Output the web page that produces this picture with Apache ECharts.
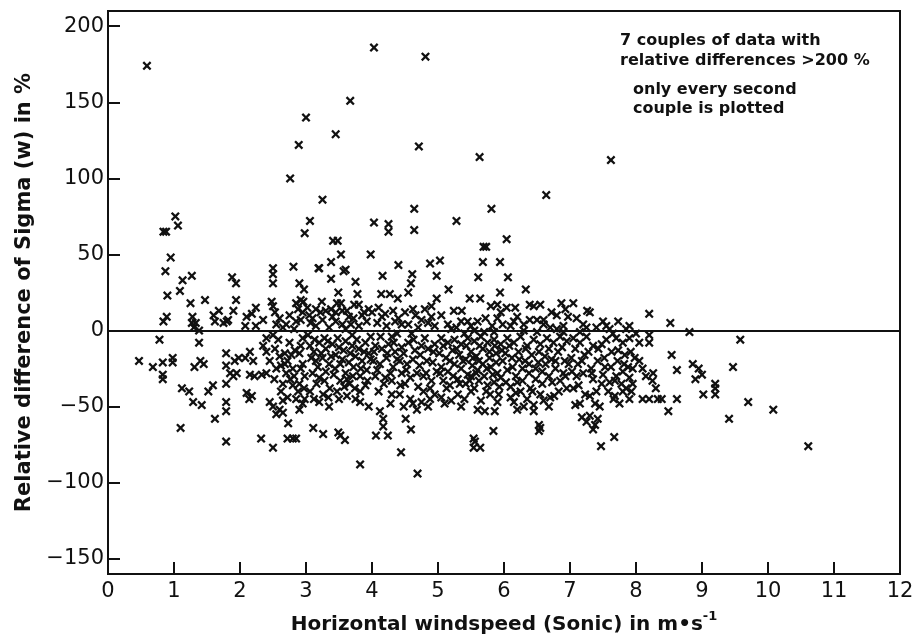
<!DOCTYPE html>
<html>
<head>
<meta charset="utf-8">
<script src="https://cdn.jsdelivr.net/npm/echarts@6/dist/echarts.min.js"></script>
<style>html,body{margin:0;padding:0;background:#fff}#c{width:919px;height:643px}</style>
</head>
<body>
<div id="c"></div>
<script>
// ---- data (windspeed m/s, relative difference %) ----
const xTicks = [0,1,2,3,4,5,6,7,8,9,10,11,12];
const yTicks = [-150,-100,-50,0,50,100,150,200];
const annotation1 = ["7 couples of data with", "relative differences >200 %"];
const annotation2 = ["only every second", "couple is plotted"];

const pointsA = [[0.59,174],[1.02,75],[1.06,69],[0.84,65],[0.88,65],[0.95,48],[0.87,39],[0.9,23],[0.84,6],[0.89,9],[1.13,33],[1.09,26],[1.27,36],[1.25,18],[1.28,9],[1.27,5],[1.47,20],[1.68,13],[1.62,6],[1.8,6],[1.75,5],[1.88,35],[1.94,31],[1.94,20],[1.9,13],[1.3,2],[1.38,0],[1.33,5],[1.6,10],[1.82,7],
[0.47,-20],[0.68,-24],[0.83,-21],[0.83,-29],[0.83,-32],[0.78,-6],[0.98,-18],[0.98,-21],[1.1,-64],[1.12,-38],[1.23,-40],[1.31,-24],[1.4,-20],[1.45,-22],[1.29,-47],[1.42,-49],[1.38,-8],[1.52,-40],[1.59,-36],[1.62,-58],[1.79,-15],[1.79,-23],[1.79,-35],[1.79,-47],[1.79,-53],[1.79,-73],[1.92,-20],[1.98,-18],[1.85,-28],[1.9,-30],[1.95,-28]];

const pointsB = [[2.08,3],[2.18,11],[2.24,15],[2.24,3],[2.35,7],[2.1,9],[2.5,41],[2.5,37],[2.5,31],[2.48,19],[2.53,12],[2.5,16],[2.76,100],[2.89,122],[2.98,64],[2.81,42],[2.9,31],[2.97,27],[2.85,18],[2.92,20],[2.96,19],[2.88,14],[2.85,6],[2.95,12],[2.92,7],[2.4,-5],[2.5,-3],[2.65,2],[2.7,4],[2.6,8],
[2.08,-18],[2.15,-14],[2.2,-20],[2.15,-29],[2.1,-41],[2.14,-45],[2.18,-43],[2.22,-30],[2.33,-29],[2.4,-28],[2.35,-10],[2.4,-14],[2.32,-71],[2.5,-77],[2.45,-47],[2.5,-50],[2.55,-55],[2.6,-52],[2.65,-54],[2.73,-61],[2.72,-71],[2.8,-71],[2.85,-71],[2.53,-12],[2.6,-17],[2.68,-15],[2.72,-20],[2.62,-23],[2.76,-32],[2.8,-36],[2.9,-35],[2.65,-35],[2.85,-45],[2.9,-52],[2.95,-48],[2.98,-45],[2.45,-20],[2.55,-25],[2.7,-28],[2.8,-25],[2.9,-15],[2.95,-22],[2.98,-30],[2.83,-13],[2.75,-8],[2.95,-5],
[2.52,-32],[2.58,-6],[2.62,-40],[2.68,-22],[2.72,-44],[2.78,-16],[2.82,-30],[2.88,-40],[2.92,-10],[2.97,-38],[2.55,4],[2.75,10],[2.82,1],[2.65,-46],[2.92,-25]];

const pointsC = [[3.0,140],[3.06,72],[3.25,86],[3.45,129],[3.67,151],[3.2,41],[3.24,19],[3.38,45],[3.38,34],[3.41,59],[3.48,59],[3.53,50],[3.57,39],[3.49,25],[3.47,18],[3.53,18],[3.75,32],[3.78,24],[3.73,17],[3.8,17],[3.98,50],[3.19,41],[3.6,40],
[3.02,15],[3.05,10],[3.15,14],[3.22,12],[3.3,13],[3.38,14],[3.45,12],[3.55,13],[3.62,13],[3.07,5],[3.15,3],[3.25,7],[3.35,2],[3.45,6],[3.55,4],[3.65,9],[3.72,8],[3.85,10],[3.92,6],[3.95,14],[3.6,1],[3.8,3],
[3.06,-10],[3.12,-14],[3.2,-8],[3.3,-12],[3.4,-9],[3.5,-11],[3.6,-7],[3.7,-10],[3.8,-12],[3.9,-8],[3.15,-20],[3.25,-18],[3.35,-22],[3.45,-16],[3.55,-19],[3.65,-21],[3.75,-17],[3.85,-20],[3.95,-15],[3.1,-28],[3.2,-31],[3.3,-27],[3.44,-25],[3.52,-33],[3.6,-28],[3.71,-30],[3.82,-30],[3.92,-26],[3.06,-40],[3.12,-45],[3.2,-47],[3.26,-42],[3.36,-38],[3.47,-40],[3.58,-37],[3.66,-35],[3.82,-40],[3.82,-47],[3.75,-45],[3.11,-64],[3.26,-68],[3.49,-67],[3.59,-72],[3.52,-69],[3.82,-88],[3.95,-50],[3.9,-36],[3.35,-50],[3.28,-5],[3.7,-3],
[3.03,-3],[3.08,-18],[3.13,-6],[3.18,-24],[3.23,-15],[3.28,-33],[3.33,-7],[3.38,-17],[3.42,-29],[3.48,-5],[3.52,-22],[3.57,-13],[3.62,-32],[3.67,-15],[3.72,-24],[3.77,-6],[3.83,-25],[3.88,-14],[3.93,-33],[3.98,-19],[3.1,8],[3.4,9],[3.68,4],[3.88,12],[3.34,-44],[3.62,-43],[3.74,-38],[3.16,-35],[3.5,-45],[3.98,-4]];

const pointsD = [[4.03,186],[4.81,180],[4.71,121],[4.03,71],[4.25,70],[4.25,65],[4.64,80],[4.64,66],[4.16,36],[4.14,24],[4.27,24],[4.4,43],[4.39,21],[4.55,25],[4.59,31],[4.61,37],[4.88,44],[4.98,36],[4.98,21],[4.0,12],[4.1,15],[4.2,11],[4.32,13],[4.4,8],[4.5,12],[4.66,10],[4.8,14],[4.9,9],[4.08,5],[4.22,3],[4.35,6],[4.55,4],[4.7,2],[4.85,5],[4.95,3],
[4.06,-69],[4.24,-69],[4.12,-53],[4.17,-58],[4.17,-63],[4.51,-58],[4.59,-65],[4.44,-80],[4.69,-94],[4.3,-42],[4.42,-42],[4.58,-45],[4.62,-48],[4.75,-47],[4.85,-50],[4.2,-31],[4.05,-10],[4.15,-12],[4.25,-9],[4.35,-14],[4.45,-11],[4.55,-8],[4.65,-13],[4.75,-10],[4.85,-12],[4.95,-9],[4.02,-20],[4.12,-22],[4.22,-18],[4.32,-24],[4.42,-20],[4.52,-26],[4.62,-19],[4.72,-23],[4.82,-28],[4.92,-21],[4.05,-30],[4.3,-33],[4.5,-35],[4.7,-37],[4.9,-33],[4.95,-42],[4.1,-40],[4.6,-2],[4.3,-4],[4.8,-5],[4.45,-28],[4.78,-30],
[4.03,-14],[4.08,-26],[4.13,-4],[4.18,-35],[4.23,-15],[4.28,-28],[4.33,-8],[4.38,-19],[4.43,-36],[4.48,-15],[4.53,-22],[4.58,-31],[4.63,-6],[4.68,-28],[4.73,-16],[4.78,-40],[4.83,-20],[4.88,-38],[4.93,-14],[4.98,-27],[4.28,-48],[4.48,-50],[4.68,-52],[4.88,-45],[4.15,9],[4.45,4],[4.62,14],[4.75,7],[4.9,16],[4.38,-2]];

const pointsE = [[5.63,114],[5.28,72],[5.81,80],[5.73,55],[5.69,55],[5.68,45],[5.94,45],[5.03,46],[5.61,35],[5.16,27],[5.24,13],[5.94,25],[5.48,21],[5.64,21],[5.36,13],[5.8,16],[5.9,17],[5.95,12],[5.35,6],[5.45,6],[5.6,6],[5.72,8],[5.9,8],[5.05,10],[5.15,4],[5.28,2],[5.5,3],[5.82,3],
[5.05,-5],[5.15,-8],[5.25,-6],[5.35,-9],[5.45,-5],[5.55,-7],[5.65,-4],[5.75,-8],[5.85,-6],[5.95,-9],[5.02,-15],[5.12,-18],[5.22,-13],[5.32,-16],[5.42,-19],[5.5,-14],[5.58,-17],[5.68,-12],[5.78,-18],[5.88,-15],[5.98,-20],[5.05,-24],[5.15,-27],[5.25,-22],[5.35,-25],[5.45,-29],[5.52,-23],[5.6,-26],[5.7,-30],[5.8,-24],[5.9,-28],[5.08,-33],[5.18,-36],[5.3,-32],[5.42,-35],[5.55,-38],[5.62,-33],[5.75,-36],[5.85,-34],[5.95,-31],[5.05,-44],[5.2,-46],[5.4,-45],[5.79,-42],[5.92,-42],[5.71,-53],[5.86,-53],[5.84,-66],[5.64,-77],[5.54,-71],[5.54,-77],[5.56,-73],[5.5,-40],[5.3,-42],[5.65,-46],
[5.03,-28],[5.08,-10],[5.13,-38],[5.18,-20],[5.23,-30],[5.28,-12],[5.33,-35],[5.38,-20],[5.43,-10],[5.48,-33],[5.53,-18],[5.58,-28],[5.63,-10],[5.68,-22],[5.73,-40],[5.78,-14],[5.83,-29],[5.88,-21],[5.93,-37],[5.97,-13],[5.1,-48],[5.35,-50],[5.6,-52],[5.9,-47],[5.7,-1],[5.4,-2],[5.2,1],[5.55,0],[5.85,-1],[5.98,4],[5.62,-20],[5.74,-25],[5.86,-10],[5.5,-30]];

const pointsF = [[6.04,60],[6.64,89],[6.06,35],[6.33,27],[6.04,15],[6.17,15],[6.39,17],[6.55,17],[6.45,16],[6.87,18],[6.93,14],[6.97,9],[6.39,7],[6.5,7],[6.6,7],[6.2,9],[6.72,12],[6.8,10],[6.1,3],[6.3,4],[6.7,2],[6.9,3],
[6.53,-62],[6.53,-66],[6.55,-64],[6.15,-47],[6.3,-50],[6.45,-49],[6.6,-46],[6.7,-44],[6.76,-43],[6.85,-33],[6.05,-5],[6.15,-8],[6.25,-4],[6.35,-10],[6.45,-6],[6.55,-9],[6.65,-5],[6.75,-8],[6.85,-4],[6.95,-7],[6.02,-15],[6.12,-18],[6.22,-14],[6.32,-20],[6.42,-16],[6.52,-21],[6.62,-17],[6.72,-19],[6.82,-14],[6.92,-20],[6.05,-26],[6.18,-30],[6.28,-25],[6.38,-28],[6.48,-32],[6.58,-27],[6.68,-30],[6.78,-25],[6.9,-28],[6.1,-37],[6.25,-40],[6.4,-38],[6.55,-42],[6.35,-45],[6.2,-34],[6.95,-38],
[6.03,-34],[6.08,-10],[6.13,-24],[6.18,-41],[6.23,-19],[6.28,-33],[6.33,-12],[6.38,-22],[6.43,-40],[6.48,-25],[6.53,-14],[6.58,-35],[6.63,-22],[6.68,-12],[6.73,-34],[6.78,-20],[6.83,-40],[6.88,-11],[6.93,-30],[6.98,-22],[6.2,-52],[6.45,-53],[6.68,-50],[6.1,-44],[6.3,0],[6.5,-1],[6.8,1],[6.6,4],[6.15,6],[6.9,-1]];

const pointsG = [[7.05,18],[7.26,13],[7.3,12],[7.5,6],[7.73,6],[7.62,112],[7.2,4],[7.4,2],[7.6,1],[7.9,3],[7.1,8],
[7.05,-38],[7.08,-49],[7.3,-43],[7.4,-40],[7.18,-57],[7.25,-60],[7.3,-56],[7.38,-62],[7.42,-58],[7.35,-65],[7.47,-76],[7.67,-70],[7.68,-43],[7.8,-40],[7.9,-45],[7.95,-35],[7.85,-38],[7.66,-45],[7.05,-5],[7.15,-8],[7.25,-4],[7.35,-10],[7.48,-9],[7.55,-6],[7.7,-5],[7.8,-8],[7.9,-5],[7.92,-14],[7.02,-18],[7.12,-22],[7.22,-16],[7.32,-25],[7.42,-20],[7.52,-18],[7.62,-24],[7.72,-20],[7.82,-22],[7.95,-25],[7.1,-30],[7.2,-28],[7.35,-32],[7.5,-29],[7.6,-34],[7.7,-30],[7.8,-27],[7.9,-31],
[7.03,-27],[7.08,-12],[7.13,-36],[7.18,-20],[7.23,-42],[7.28,-14],[7.33,-28],[7.38,-48],[7.43,-12],[7.48,-35],[7.53,-24],[7.58,-40],[7.63,-14],[7.68,-33],[7.73,-13],[7.78,-35],[7.83,-16],[7.88,-24],[7.93,-40],[7.98,-18],[7.15,-48],[7.45,-50],[7.75,-48],[7.25,2],[7.55,3],[7.85,1],[7.65,-2],[7.15,-1]];

const pointsH = [[8.2,11],[8.52,5],[8.0,-2],[8.05,-8],[8.2,-3],[8.2,-8],[8.81,-1],[9.58,-6],[9.47,-24],[8.54,-16],[8.62,-26],[8.86,-22],[8.95,-25],[9.0,-29],[8.9,-32],[9.2,-35],[9.2,-38],[9.2,-42],[9.02,-42],[9.7,-47],[10.08,-52],[9.41,-58],[10.61,-76],[8.49,-53],[8.39,-45],[8.62,-45],[8.15,-30],[8.25,-33],[8.3,-38],[8.1,-45],[8.2,-45],[8.26,-28],[8.33,-45],[8.05,-20],[8.1,-25]];

const allPoints = [].concat(pointsA, pointsB, pointsC, pointsD, pointsE, pointsF, pointsG, pointsH);

const chart = echarts.init(document.getElementById('c'), null, {renderer: 'canvas'});
const ink = '#111';
const xMark = 'path://M0,1.8L1.8,0L5,3.2L8.2,0L10,1.8L6.8,5L10,8.2L8.2,10L5,6.8L1.8,10L0,8.2L3.2,5Z';
const font = 'DejaVu Sans';
const yMin = -160, yMax = 210;

chart.setOption({
  animation: false,
  backgroundColor: '#fff',
  grid: {left: 108, right: 19, top: 11, bottom: 69, show: true, borderColor: ink, borderWidth: 2, backgroundColor: 'transparent'},
  xAxis: {
    type: 'value', min: 0, max: 12, interval: 1, position: 'bottom',
    axisLine: {show: true, onZero: false, lineStyle: {color: ink, width: 2}},
    axisTick: {show: true, inside: true, length: 12, lineStyle: {color: ink, width: 2}},
    axisLabel: {color: ink, fontFamily: font, fontSize: 21, margin: 7},
    splitLine: {show: false},
    name: 'Horizontal windspeed (Sonic) in m•s{sup|-1}',
    nameLocation: 'middle', nameGap: 36,
    nameTextStyle: {color: ink, fontFamily: font, fontSize: 20, fontWeight: 'bold',
      rich: {sup: {fontFamily: font, fontSize: 13, fontWeight: 'bold', color: ink, padding: [0,0,16,0]}}}
  },
  yAxis: {
    type: 'value', min: yMin, max: yMax,
    axisLine: {show: true, onZero: false, lineStyle: {color: ink, width: 2}},
    axisTick: {show: true, inside: true, length: 12, customValues: yTicks, lineStyle: {color: ink, width: 2}},
    axisLabel: {color: ink, fontFamily: font, fontSize: 21, margin: 4, customValues: yTicks,
      formatter: v => (v < 0 ? '\u2212' + Math.abs(v) : String(v))},
    splitLine: {show: false},
    name: 'Relative difference of Sigma (w) in %',
    nameLocation: 'middle', nameGap: 70, nameRotate: 90,
    nameTextStyle: {color: ink, fontFamily: font, fontSize: 21, fontWeight: 'bold'}
  },
  series: [{
    type: 'scatter',
    data: allPoints,
    symbol: xMark,
    symbolSize: 9,
    itemStyle: {color: ink, opacity: 1},
    silent: true,
    markLine: {
      silent: true, symbol: 'none',
      label: {show: false},
      lineStyle: {color: ink, width: 2, type: 'solid'},
      data: [{yAxis: 0}]
    }
  }, {
    // x-axis tick marks, positioned through the axis scale, on a top layer
    type: 'custom',
    silent: true,
    clip: false,
    zlevel: 1,
    z: 100,
    data: xTicks.map(v => [v, yMin]),
    encode: {x: 0, y: 1},
    renderItem: (params, api) => {
      const p = api.coord([api.value(0), api.value(1)]);
      return {type: 'line', shape: {x1: p[0], y1: p[1], x2: p[0], y2: p[1] - 12},
              style: {stroke: ink, lineWidth: 2}};
    }
  }],
  graphic: [
    {type: 'text', left: 620, top: 31, style: {text: annotation1.join('\n'), font: 'bold 16px "DejaVu Sans"', fill: ink, lineHeight: 20}},
    {type: 'text', left: 633, top: 80, style: {text: annotation2.join('\n'), font: 'bold 16px "DejaVu Sans"', fill: ink, lineHeight: 19}}
  ]
});
</script>
</body>
</html>
